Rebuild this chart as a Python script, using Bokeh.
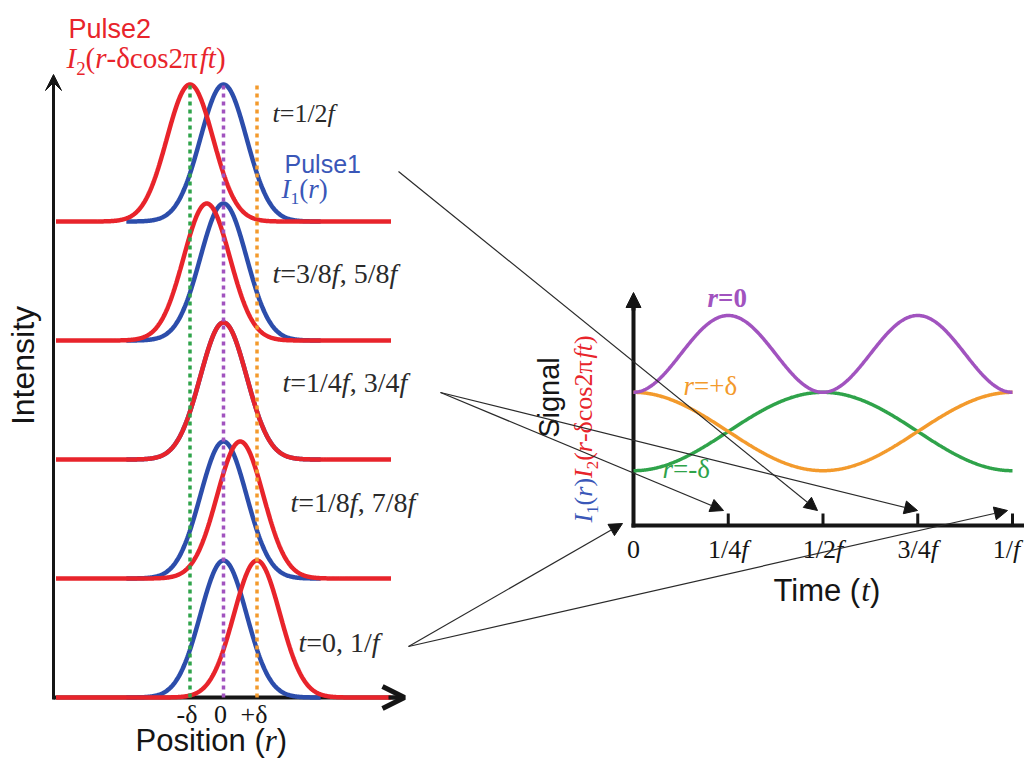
import numpy as np
from bokeh.plotting import figure
from bokeh.models import Range1d, Arrow, NormalHead, OpenHead, VeeHead
from bokeh.core.properties import value
from bokeh.embed import file_html
from bokeh.resources import INLINE

# ---------------- data ----------------
row_labels = ["t=1/2f", "t=3/8f, 5/8f", "t=1/4f, 3/4f", "t=1/8f, 7/8f", "t=0, 1/f"]
pulse1_center = [0.0, 0.0, 0.0, 0.0, 0.0]      # peak of pulse 1, units of delta
pulse2_center = [-1.0, -0.5, 0.0, 0.5, 1.0]    # peak of pulse 2, units of delta
pulse_sigma = 0.69                             # pulse width, units of delta
pulse_peak = 1.0
position_ticks = [-1.0, 0.0, 1.0]
position_tick_labels = ["-δ", "0", "+δ"]

probe_labels = ["r=-δ", "r=+δ", "r=0"]
probe_min = [0.03, 0.03, 0.52]     # signal level (relative)
probe_max = [0.52, 0.52, 1.00]
time_ticks = [0.0, 0.25, 0.5, 0.75, 1.0]
time_tick_labels = ["0", "1/4f", "1/2f", "3/4f", "1/f"]

# ---------------- colours ----------------
RED = "#e8242b"
BLUE = "#2c4dab"
BLUE_TXT = "#3a57b8"
PURPLE = "#a153bf"
ORANGE = "#f39a2c"
GREEN = "#2fa34a"
INK = "#151515"
GREY = "#2a2a2a"
probe_colors = [GREEN, ORANGE, PURPLE]

# ---------------- layout: frame pixels equal reference pixels ----------------
W, H = 1024, 758
X0, Y0 = 0, 0
R_ZERO_PX, DELTA_PX = 223.0, 33.5
I_BASE_PX, I_UNIT_PX = 697.0, 137.0
ROW_STEP = 119.0 / I_UNIT_PX
T_ZERO_PX, PERIOD_PX = 633.0, 379.0
S_ZERO_PX, S_UNIT_PX = 475.0, 160.0
K = 0.36   # baseline correction (fraction of font size)

p = figure(width=W, height=H,
           x_range=Range1d(X0, X0 + W), y_range=Range1d(Y0 + H, Y0),
           output_backend="svg", toolbar_location=None,
           x_axis_location=None, y_axis_location=None, min_border=0,
           outline_line_color=None, background_fill_color="white",
           border_fill_color="white")
p.grid.visible = False
p.extra_x_ranges = {
    "r": Range1d((X0 - R_ZERO_PX) / DELTA_PX, (X0 + W - R_ZERO_PX) / DELTA_PX),
    "t": Range1d((X0 - T_ZERO_PX) / PERIOD_PX, (X0 + W - T_ZERO_PX) / PERIOD_PX),
}
p.extra_y_ranges = {
    "I": Range1d((I_BASE_PX - (Y0 + H)) / I_UNIT_PX, (I_BASE_PX - Y0) / I_UNIT_PX),
    "S": Range1d((S_ZERO_PX - (Y0 + H)) / S_UNIT_PX, (S_ZERO_PX - Y0) / S_UNIT_PX),
}

SERIF = "Liberation Serif"
SANS = "Liberation Sans"
SERIF_W = {'0': .5, '1': .5, '2': .5, '3': .5, '4': .5, '5': .5, '6': .5, '7': .5,
           '8': .5, '9': .5, '=': .564, '/': .278, ',': .25, ' ': .25, '(': .333,
           ')': .333, '+': .564, '-': .333, 'c': .444, 'o': .5, 's': .389,
           'δ': .5, 'π': .55, 'I': .333, 'r': .389, 'f': .278, 't': .278}
SANS_W = {'P': .667, 'o': .556, 's': .5, 'i': .222, 't': .278, 'n': .556, ' ': .278,
          '(': .333, ')': .333, 'T': .611, 'm': .833, 'e': .556}
ITALIC = set("Irft")


def math_pieces(s, color, bold=False):
    out = []
    i = 0
    while i < len(s):
        ch = s[i]
        if ch == "_":
            out.append([s[i + 1], SERIF, "normal", True, color])
            i += 2
            continue
        style = "italic" if ch in ITALIC else "normal"
        if bold:
            style = "bold italic" if style == "italic" else "bold"
        if out and out[-1][2] == style and not out[-1][3] and out[-1][4] == color:
            out[-1][0] += ch
        else:
            out.append([ch, SERIF, style, False, color])
        i += 1
    return out


def piece_width(text, font, size, sub):
    tab = SERIF_W if font == SERIF else SANS_W
    f = 0.65 if sub else 1.0
    return sum(tab.get(ch, 0.5) for ch in text) * size * f


def rich(x, y, pieces, size, align="left", angle=0.0, x_range_name="default", nudge=0.0):
    widths = [piece_width(t, f, size, sub) for t, f, st, sub, c in pieces]
    total = sum(widths)
    pos = (-total / 2 if align == "center" else 0.0) + nudge
    for (t, f, st, sub, c), w in zip(pieces, widths):
        fs = size * 0.65 if sub else size
        shift = 0.22 * size if sub else 0.0
        if angle:
            xx, yy, xo = x + shift - K * fs, y - pos, 0
        else:
            xx, yy, xo = x, y + shift - K * fs, pos
        p.text(x=[xx], y=[yy], text=[t], x_offset=xo, text_font=value(f),
               text_font_style=st, text_font_size=f"{fs:.1f}px", text_color=c,
               text_align="left", text_baseline="alphabetic", angle=angle,
               x_range_name=x_range_name)
        pos += w
    return total


# ================= left panel =================
p.line([53, 398], [697, 697], line_color=INK, line_width=4)
p.line([53, 53], [699, 88], line_color=INK, line_width=3)
p.add_layout(Arrow(end=OpenHead(size=22, line_width=5, line_color=INK),
                   x_start=388, y_start=697, x_end=404, y_end=697,
                   line_color=INK, line_width=4))
p.add_layout(Arrow(end=VeeHead(size=16, fill_color=INK, line_color=INK),
                   x_start=53, y_start=95, x_end=53, y_end=74,
                   line_color=INK, line_width=3))

n_rows = len(row_labels)
flat = np.linspace(-5.0, 5.0, 800)
for i, (c1, c2) in enumerate(zip(pulse1_center, pulse2_center)):
    base = (n_rows - 1 - i) * ROW_STEP
    xb = np.linspace(c1 - 2.9, c1 + 2.9, 300)
    p.line(xb, base + pulse_peak * np.exp(-(xb - c1) ** 2 / (2 * pulse_sigma ** 2)),
           x_range_name="r", y_range_name="I", line_color=BLUE, line_width=4.5)
    p.line(flat, base + pulse_peak * np.exp(-(flat - c2) ** 2 / (2 * pulse_sigma ** 2)),
           x_range_name="r", y_range_name="I", line_color=RED, line_width=4.5)

top_guide = (n_rows - 1) * ROW_STEP + pulse_peak
p.segment(x0=position_ticks, y0=[0, 0, 0], x1=position_ticks, y1=[top_guide] * 3,
          x_range_name="r", y_range_name="I", line_color=[GREEN, PURPLE, ORANGE],
          line_dash="4 4", line_width=3.5)

p.text(x=position_ticks, y=[723 - K * 26] * 3, text=position_tick_labels, x_range_name="r",
       x_offset=-3, text_font=value(SERIF), text_font_size="26px", text_color=INK,
       text_align="center", text_baseline="alphabetic")

rich(68, 38, [["Pulse2", SANS, "normal", False, RED]], 27)
rich(66, 68, math_pieces("I_2(r-δcos2πft)", RED), 29)
rich(284, 172, [["Pulse1", SANS, "normal", False, BLUE_TXT]], 25)
rich(281, 198, math_pieces("I_1(r)", BLUE_TXT), 27)
label_pos = [(272, 122, 26), (272, 283, 28), (282, 392, 28), (290, 512, 28), (298, 652, 28)]
for lab, (lx, ly, ls) in zip(row_labels, label_pos):
    rich(lx, ly, math_pieces(lab, GREY), ls)

rich(135, 751, [["Position (", SANS, "normal", False, INK],
                ["r", SERIF, "italic", False, INK],
                [")", SANS, "normal", False, INK]], 31)
p.text(x=[34 - K * 32], y=[365], text=["Intensity"], angle=np.pi / 2, text_font=value(SANS),
       text_font_size="32px", text_color=INK, text_align="center",
       text_baseline="alphabetic")

# ================= right panel =================
p.line([631, 1024], [525, 525], line_color=INK, line_width=4)
p.line([633, 633], [527, 300], line_color=INK, line_width=4)
p.add_layout(Arrow(end=NormalHead(size=15, fill_color=INK, line_color=INK),
                   x_start=633, y_start=310, x_end=633, y_end=292,
                   line_color=INK, line_width=4))
p.segment(x0=time_ticks[1:], y0=[525] * 4, x1=time_ticks[1:], y1=[513] * 4,
          x_range_name="t", line_color=INK, line_width=3)

tt = np.linspace(0.0, 1.0, 500)
cc = np.cos(2 * np.pi * tt)
profiles = [(1 - cc) / 2, (1 + cc) / 2, 1 - cc ** 2]
for lo, hi, prof, col in zip(probe_min, probe_max, profiles, probe_colors):
    p.line(tt, lo + (hi - lo) * prof, x_range_name="t", y_range_name="S",
           line_color=col, line_width=3.5)

probe_pos = [(662, 478), (683, 395), (707, 307)]
for lab, col, (lx, ly) in zip(probe_labels, probe_colors, probe_pos):
    rich(lx, ly, math_pieces(lab, col, bold=(lab == "r=0")), 27)

for k, (tv, tl) in enumerate(zip(time_ticks, time_tick_labels)):
    rich(tv, 558, math_pieces(tl, INK), 26, align="center", x_range_name="t",
         nudge=(-6.0 if k == len(time_ticks) - 1 else 0.0))

rich(773, 601, [["Time (", SANS, "normal", False, INK],
                ["t", SERIF, "italic", False, INK],
                [")", SANS, "normal", False, INK]], 31)
p.text(x=[559 - K * 29], y=[397], text=["Signal"], angle=np.pi / 2, text_font=value(SANS),
       text_font_size="29px", text_color=INK, text_align="center",
       text_baseline="alphabetic")
adv = rich(592, 522, math_pieces("I_1(r)", BLUE_TXT), 26, angle=np.pi / 2)
rich(592, 522 - adv, math_pieces("I_2(r-δcos2πft)", RED), 26, angle=np.pi / 2)

# ================= connecting arrows =================
links = [((398, 171), (817, 510)),
         ((440, 392), (723, 510)),
         ((440, 392), (917, 510)),
         ((408, 646), (622, 523)),
         ((408, 646), (1007, 510))]
for (xs, ys), (xe, ye) in links:
    p.add_layout(Arrow(end=NormalHead(size=13, fill_color=INK, line_color=INK, line_width=1),
                       x_start=xs, y_start=ys, x_end=xe, y_end=ye,
                       line_color=GREY, line_width=1.2))

open("out.html", "w").write(file_html(p, INLINE))
